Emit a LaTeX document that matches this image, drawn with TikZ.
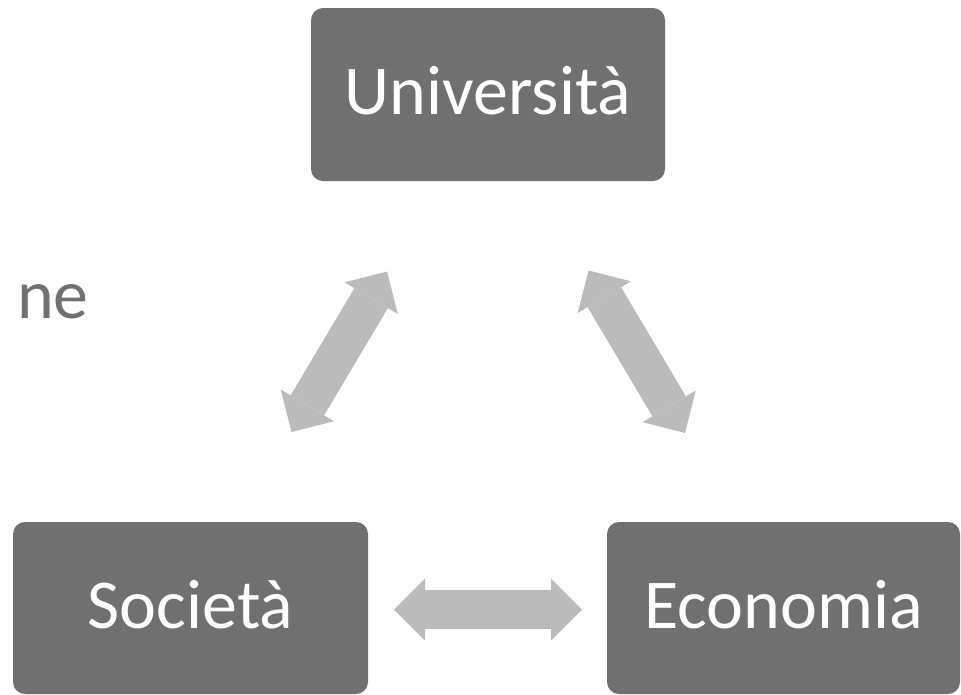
\documentclass[tikz,border=0pt]{standalone}
\usepackage{fontspec}
\setmainfont{Carlito}
\usetikzlibrary{arrows.meta}
\definecolor{boxgray}{HTML}{707070}
\definecolor{arrgray}{HTML}{BBBBBB}
\begin{document}
\begin{tikzpicture}[x=1pt,y=-1pt,
  box/.style={fill=boxgray, rounded corners=12pt, minimum width=354pt, minimum height=173pt,
    inner sep=0pt, text=white, font=\fontsize{70}{84}\selectfont, text height=44pt, text depth=4pt},
  tipshape/.style={},
  dbl/.style={arrgray, line width=39pt,
    {Triangle[width=62pt,length=31pt,line width=0pt]}-{Triangle[width=62pt,length=31pt,line width=0pt]}}]
\useasboundingbox (0,0) rectangle (961,694);
\node[box] (univ) at (488,94.5) {Università};
\node[box, minimum width=355pt, minimum height=172pt] (soc) at (190.5,608) {Società};
\node[box, minimum width=353pt, minimum height=172pt] (eco) at (783.5,608) {Economia};
\node[anchor=base east, inner sep=0pt, text=boxgray, font=\fontsize{70}{84}\selectfont] (ne) at (89,318) {ne};
\coordinate (l1) at (387,271.5);
\coordinate (l2) at (291.5,432);
\coordinate (r1) at (588.5,270.5);
\coordinate (r2) at (685,433);
\coordinate (h1) at (394,609.5);
\coordinate (h2) at (582,609.5);
\draw[dbl] (l1) -- (l2);
\draw[dbl] (r1) -- (r2);
\draw[dbl] (h1) -- (h2);
\end{tikzpicture}
\end{document}
